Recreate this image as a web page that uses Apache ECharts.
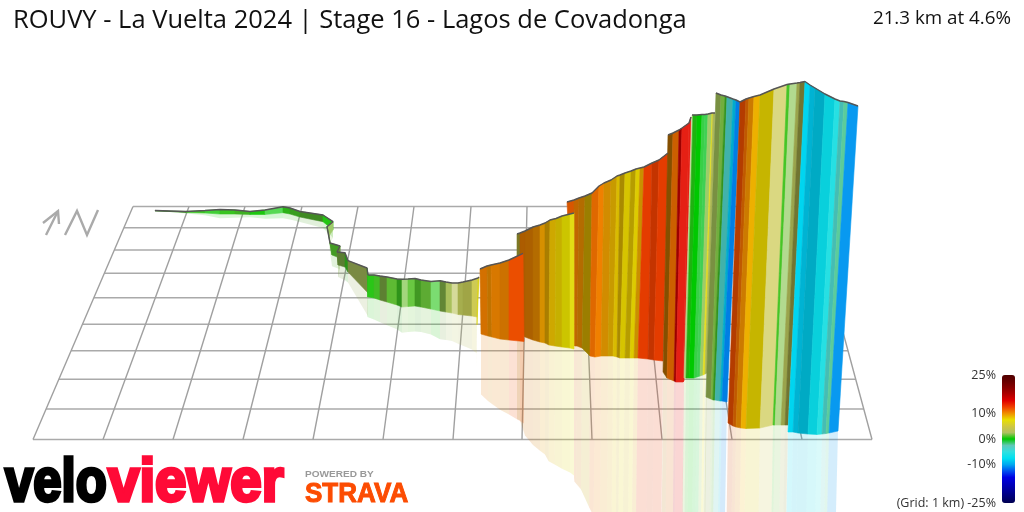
<!DOCTYPE html>
<html><head><meta charset="utf-8">
<style>html,body{margin:0;padding:0;background:#fff}#c{width:1024px;height:512px}</style>
<script src="https://cdn.jsdelivr.net/npm/echarts@6/dist/echarts.min.js"></script>
</head><body><div id="c"></div>
<script>
// Every row: top x, top y, base x, base y, gradient %, surface light
const sectionA = [
[155,210.5,155,211,1,1],[170,211,170,211.5,1,.6],[186,211.5,186,212.5,1,.7],[205,210.5,205,213,.8,1],[220,209.5,220,214,.4,1.1],
[235,210,235,214,.8,1],[250,211.5,250,214.5,1,.9],[265,210,265,214.5,.4,1],[283,206.7,283,212.7,.1,1.2],[290,208,290,214,.7,.9],
[300,211.5,300,217,1,.8],[323,215,323,221.7,1.3,.7],[333,221.7,333,230,.5,1],[327,226.7,329,236,2,1.1],[330,243,332,255,1.4,.8],
[340,246,340,258,1.2,.8],[337,252,338,265,2,.75],[345,252.7,345,267,2,.65],[348,260.7,348,272,.8,.75],[367,268,368,293,2.4,.72],[368,275,368,297,.5,.9]];
const sectionB = [
[368,275,367.5,296.7,.5,1],[374,275,374,298,.6,1],[380,276,380,300,1,.95],[387,277,387,302,2,.66],[397,279,397,305,1.4,.95],
[402,279.3,402,307,.9,.75],[408,279,408,306.5,1.7,1.2],[415,278.5,415,306,1.3,1.05],[421,280,421,307,1.2,.78],[431,281.5,431,309,1.5,.88],
[440,280.7,440,311,.5,1.25],[446,282,446,312,2,.7],[452,283,452,313,2.4,1],[458,283,458,314.5,3.2,1.25],[463,282,463,315,3.2,.9],
[472,280,472,316,3.5,.85],[478,278,477,317,4.5,1.05],[479,277,477,325,7,.95]];
const sectionC = [
[480,269,481,334,10,1],[487,266,488,336,10.5,.88],[491,265,492,337,10,.8],[500,263,500,339,10.3,.9],[509,260,509,340,10.3,.85],[523,253.3,524,341.5,12,.98]];
const sectionD = [
[517,234,517,330,5,.6],[520,233,520,330,5,.6],[525,231,525,337,10.5,.72],[533,227,533,340,10.3,.72],[540,225,540,342,10,.75],[545,223,545,343,9.5,.9],
[550,220,549,345,9,.72],[556,218.5,555,346,8.5,.88],[562,216,562,347,8,.85],[570,214,570,348,7.5,.88],[574,213,574,349,7,1.02]];
const sectionE = [
[567,202,574,345,11,.9],[574,200,574.5,346,11.5,.9],[579,198,577,346,10.5,.8],[585,196,582,348,10,.75],[592,193,590,356,8.5,.66],
[599,186,595,357,11,.93],[604,183,601,356,10.5,1],[611,180,608,356,9.5,.88],[617,176,613,356,8.8,.85],[620,175,617,357,8.2,.93],
[625,173,620,358,8.5,.72],[631,171,625,358,7.8,.92],[636,169,630,358,8.2,.78],[640,168,634,358,7.8,.95],[644,167,638,358,9.2,.85],
[652,163,648,359,12.5,.95],[659,160,654,360,12.5,.82],[668,153,663,361,12.5,.95]];
const sectionF = [
[668,135,663,372,10,.6],[673,133,667,378,10,.55],[679,130,674,381,11,.85],[682,128,676,382,15,.7],[689,123,683,382,14.5,1.05],[691,117,684,381,14.5,1.05]];
const sectionG = [
[692,115,684,378,2,1.2],[693,115,686,378,2,1.2],[697,115,689,378,.5,.9],[702,114.5,694,378,0,1],[705,114.5,697,377,-.5,1.1],
[708,114,700,376,-.7,1.1],[712,113,703,375,2,1.1],[713,113,705,374,7,1.05],[715,113,707,373,2.8,.95]];
const sectionH = [
[716,93,706,397,2.3,.75],[721,95,711,399,2.3,.75],[725,96,713,400,1.8,.9],[727,96.5,715,400,1,.75],[733,99,720,401,-3.5,.85],
[736,100,722,401,-8.5,.85],[740,102,727,402,-11,.95]];
const sectionI = [
[740,102,728,423,12,.75],[746,99,733,426,12,.75],[749,98,736,427,11,.8],[754,96.5,741,428,10,.85],[760,95,746,428.5,9,1],
[774,89,760,428,7.8,.85],[787,84.5,773,425,4.5,1.2],[790,84,775,425,1,1],[797,83,781,425,1.8,1.25],[800,82.5,785,425,3,.85],[805,81.5,788,425,3.5,.6]];
const sectionJ = [
[805,81.5,788,432,-8,1],[810,85,793,432,-8,1],[815,88,798,433,-8.4,.88],[825,94,808,434,-8.2,.82],[835,99,817,434.5,-7,.93],
[840,101,822,434,-5.5,1],[844,101.5,826,433.5,-3.5,.9],[848,102.5,829,433,-2,1.05],[858,106,838,431,-10.5,1.02]];
const paintOrder = [sectionA,sectionB,sectionE,sectionD,sectionC,sectionF,sectionG,sectionH,sectionI,sectionJ];

const gridRowY = [206.5,227.7,250,273.3,297.7,324.3,350.7,379.3,409,439.5];
const gridBackX = [133,189,245,302,358,414,471,527,583,639,696,752,809];
const gridFrontX = [33,103,173,243,313,383,453,522,592,662,732,802,872];

const gradientRamp = ['#000050','#000078','#00009c','#0000c0','#0000e4','#0050f0','#00a8f0','#00e0f0','#30e0e0','#60c8b8','#00c800',
  '#b0c060','#d0c840','#e8e000','#f09000','#f04000','#e00000','#b00000','#880000','#680000','#500000'];
const legendTicks = [25,10,0,-10];
const titleText = 'ROUVY - La Vuelta 2024 | Stage 16 - Lagos de Covadonga';
const summaryText = '21.3 km at 4.6%';
const gridNote = '(Grid: 1 km) -25%';

const strips = [];
paintOrder.forEach(s => { for (let i=1;i<s.length;i++){ const p=s[i-1],q=s[i];
  strips.push([p[0],p[1],p[2],p[3],q[0],q[1],q[2],q[3],q[4],q[5]]); }});

function shade(c,k){ const a=echarts.color.parse(c);
  const f=v=> Math.max(0,Math.min(255, k<=1? v*k : v+(255-v)*(k-1)*1.6))|0;
  return 'rgb('+f(a[0])+','+f(a[1])+','+f(a[2])+')'; }

const gridH=[],gridV=[];
const lerpX=(a,b,y)=>a+(b-a)*(y-gridRowY[0])/(gridRowY[9]-gridRowY[0]);
gridRowY.forEach(y=>{ gridH.push([lerpX(133,33,y),y],[lerpX(809,872,y),y],['-','-']); });
gridBackX.forEach((x,i)=>{ gridV.push([x,gridRowY[0]],[gridFrontX[i],gridRowY[9]],['-','-']); });

const REFL=.93;
function ribbon(params,api){
  const g=i=>api.value(i);
  const pts=[[g(0),g(1)],[g(4),g(5)],[g(6),g(7)],[g(2),g(3)]].map(p=>api.coord(p));
  const col=shade(api.visual('color'),g(9));
  return {type:'polygon',shape:{points:pts},style:{fill:col,stroke:col,lineWidth:.6}};
}
function mirror(params,api){
  const g=i=>api.value(i);
  const r=(tx,ty,bx,by)=>[bx-Math.max(0,tx-bx)*REFL*.4,by+(by-ty)*REFL];
  const pts=[[g(2),g(3)],[g(6),g(7)],r(g(4),g(5),g(6),g(7)),r(g(0),g(1),g(2),g(3))].map(p=>api.coord(p));
  return {type:'polygon',shape:{points:pts},style:{fill:shade(api.visual('color'),1-(1-Math.min(1,g(9)))*.5),opacity:.17}};
}
const outlines = paintOrder.map(s=>({type:'line',z:6,data:s.map(r=>[r[0],r[1]]),symbol:'none',silent:true,
  lineStyle:{color:'#555',width:1.4}}));

const F='"Open Sans"';
const txt=(text,x,y,size,fill,align,extra)=>Object.assign({type:'text',x,y,silent:true,
  style:Object.assign({text,font:size+'px '+F,fill,align:align||'left',verticalAlign:'middle'},extra||{})});
const logo=(text,x,y,font,fill,sx,lw)=>({type:'text',x,y,scaleX:sx,silent:true,
  style:{text,font,fill,stroke:fill,lineWidth:lw,align:'left',verticalAlign:'bottom'}});
const gfx=[
  ...legendTicks.map(t=>txt(t+'%',996,439-2.56*t,12.5,'#333','right')),
  txt(gridNote,996,503,12.5,'#333','right'),
  {type:'polyline',silent:true,shape:{points:[[46,235],[58,211]]},style:{stroke:'#aaa',lineWidth:2.4,fill:null}},
  {type:'polyline',silent:true,shape:{points:[[43,223],[58,211],[59,224]]},style:{stroke:'#aaa',lineWidth:2.4,fill:null}},
  {type:'polyline',silent:true,shape:{points:[[65,235],[77,211],[87,235],[98,210]]},style:{stroke:'#aaa',lineWidth:2.4,fill:null}},
  logo('velo',5,515,'bold 62px "Liberation Sans"','#000',.82,3.6),
  logo('viewer',108,515,'bold 62px "Liberation Sans"','#ff0a37',.91,3.6),
  logo('POWERED BY',305,479.5,'bold 9.5px "Liberation Sans"','#999',1.06,0),
  logo('STRAVA',305,508,'bold 28px "Liberation Sans"','#fc4c02',.93,1)
];

const chart=echarts.init(document.getElementById('c'),null,{renderer:'canvas'});
chart.setOption({
  animation:false,backgroundColor:'#fff',
  title:[{text:titleText,left:13,top:8,padding:0,textStyle:{fontFamily:F,fontSize:25.5,fontWeight:'normal',color:'#111'}},
         {text:summaryText,right:13,top:9,padding:0,textStyle:{fontFamily:F,fontSize:18.8,fontWeight:'normal',color:'#111'}}],
  grid:{left:0,right:0,top:0,bottom:0},
  xAxis:{type:'value',min:0,max:1024,show:false},
  yAxis:{type:'value',min:0,max:512,inverse:true,show:false},
  visualMap:{type:'continuous',min:-25,max:25,dimension:8,seriesIndex:[2,3],left:1002,top:375,padding:0,itemWidth:13,itemHeight:128,
    calculable:false,showLabel:false,text:null,hoverLink:false,inRange:{color:gradientRamp}},
  graphic:gfx,
  series:[
    {type:'line',z:1,data:gridH,symbol:'none',silent:true,lineStyle:{color:'#aaa',width:1.5}},
    {type:'line',z:1,data:gridV,symbol:'none',silent:true,lineStyle:{color:'#a0a0a0',width:1.4}},
    {type:'custom',z:3,renderItem:mirror,data:strips,silent:true,encode:{x:[0,2,4,6],y:[1,3,5,7]},clip:false},
    {type:'custom',z:5,renderItem:ribbon,data:strips,silent:true,encode:{x:[0,2,4,6],y:[1,3,5,7]},clip:false},
    ...outlines
  ]
});
</script></body></html>
